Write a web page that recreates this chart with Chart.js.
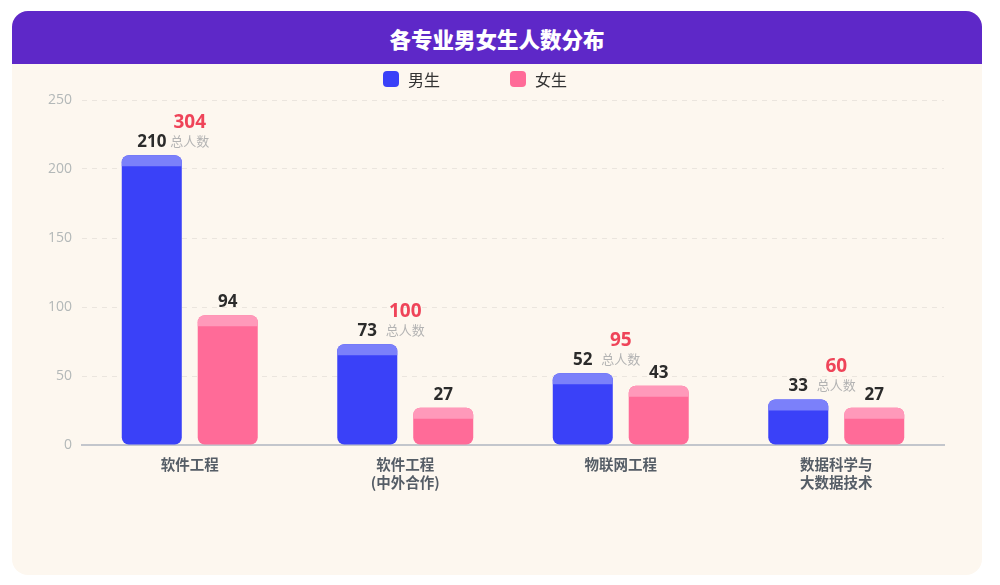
<!DOCTYPE html>
<html><head><meta charset="utf-8">
<script src="https://cdn.jsdelivr.net/npm/chart.js@4.4.1/dist/chart.umd.min.js"></script>
<style>
html,body{margin:0;padding:0;background:#fff;width:1000px;height:585px;overflow:hidden;font-family:"Noto Sans CJK SC","Noto Sans",sans-serif;}
#card{position:absolute;left:12px;top:11px;width:970px;height:564px;border-radius:16px;overflow:hidden;background:#fdf7ef;}
#head{position:absolute;left:0;top:0;width:970px;height:53px;background:#5e28c8;color:#fff;font-weight:900;font-size:21.5px;line-height:55px;text-align:center;}
#wrap{position:absolute;left:0;top:53px;width:970px;height:511px;}
#legend{position:absolute;top:59px;left:0;width:970px;height:20px;}
.li{position:absolute;top:0;display:flex;align-items:center;font-size:16px;color:#333;height:18px;}
.li i{display:inline-block;width:16px;height:16px;border-radius:4px;margin-right:9px;}
</style></head>
<body>
<div id="card">
  <div id="head">各专业男女生人数分布</div>
  <div id="wrap"><canvas id="c" width="970" height="511"></canvas></div>
  <div id="legend"></div>
</div>
<script>
const categories = [["软件工程"], ["软件工程", "(中外合作)"], ["物联网工程"], ["数据科学与", "大数据技术"]];
const seriesNames = ["男生", "女生"];
const maleValues = [210, 73, 52, 33];
const femaleValues = [94, 27, 43, 27];
const totalValues = [304, 100, 95, 60];
const yTicks = [0, 50, 100, 150, 200, 250];

const barColors = ["#3a41f8", "#ff6b98"];
const capColors = ["#7b80fa", "#ff99ba"];
const numFont = '"Open Sans", "Noto Sans CJK SC", sans-serif';

// HTML legend
const legendEl = document.getElementById('legend');
const legendLeft = [371, 498];
seriesNames.forEach((n, i) => {
  const d = document.createElement('div');
  d.className = 'li';
  d.style.left = legendLeft[i] + 'px';
  d.innerHTML = '<i style="background:' + barColors[i] + '"></i>' + n;
  legendEl.appendChild(d);
});

const capPlugin = {
  id: 'caps',
  afterDatasetsDraw(chart) {
    const ctx = chart.ctx;
    ctx.save();
    chart.data.datasets.forEach((ds, di) => {
      const meta = chart.getDatasetMeta(di);
      meta.data.forEach(el => {
        const w = el.width;
        ctx.fillStyle = capColors[di];
        ctx.beginPath();
        ctx.roundRect(el.x - w / 2, el.y, w, 11, [7, 7, 0, 0]);
        ctx.fill();
      });
    });
    ctx.restore();
  }
};

const labelPlugin = {
  id: 'labels',
  afterDatasetsDraw(chart) {
    const ctx = chart.ctx;
    const xs = chart.scales.x;
    ctx.save();
    ctx.textAlign = 'center';
    ctx.textBaseline = 'middle';
    const metas = chart.data.datasets.map((d, i) => chart.getDatasetMeta(i));
    metas.forEach(meta => {
      meta.data.forEach((el, i) => {
        ctx.font = 'bold 17px ' + numFont;
        ctx.fillStyle = '#2b2b2b';
        ctx.fillText(String(meta._dataset.data[i]), el.x, el.y - 13);
      });
    });
    totalValues.forEach((t, i) => {
      const top = Math.min(...metas.map(m => m.data[i].y));
      const cx = xs.getPixelForValue(i);
      ctx.font = 'bold 19px ' + numFont;
      ctx.fillStyle = '#ef4459';
      ctx.fillText(String(t), cx, top - 33);
      ctx.font = '13px "Noto Sans CJK SC", "Noto Sans", sans-serif';
      ctx.fillStyle = '#b3b3b3';
      ctx.fillText('总人数', cx, top - 14);
    });
    ctx.restore();
  }
};

new Chart(document.getElementById('c'), {
  type: 'bar',
  data: {
    labels: categories,
    datasets: [
      { label: seriesNames[0], data: maleValues, backgroundColor: barColors[0], borderRadius: 7, borderSkipped: false, barPercentage: 0.79, categoryPercentage: 0.705 },
      { label: seriesNames[1], data: femaleValues, backgroundColor: barColors[1], borderRadius: 7, borderSkipped: false, barPercentage: 0.79, categoryPercentage: 0.705 }
    ]
  },
  options: {
    responsive: false,
    animation: false,
    devicePixelRatio: 1,
    layout: { padding: { top: 36, right: 38, left: 0, bottom: 0 } },
    plugins: { legend: { display: false }, tooltip: { enabled: false }, title: { display: false } },
    scales: {
      x: {
        afterFit(s) { s.height = 130; },
        grid: { display: false, drawTicks: false },
        border: { display: true, color: '#c3c6cc', width: 2 },
        ticks: { color: '#555d66', font: { size: 14.5, weight: 'bold', family: '"Noto Sans CJK SC", "Noto Sans", sans-serif', lineHeight: 1.25 }, padding: 10 }
      },
      y: {
        min: 0, max: 250,
        afterFit(s) { s.width = 70; },
        afterBuildTicks(s) { s.ticks = yTicks.map(v => ({ value: v })); },
        grid: { color: 'rgba(0,0,0,0.07)', drawTicks: false },
        border: { display: false, dash: [5, 5] },
        ticks: { color: '#b3b8b8', font: { size: 14, family: '"Open Sans", "Noto Sans", sans-serif' }, padding: 10 }
      }
    }
  },
  plugins: [capPlugin, labelPlugin]
});
</script>
</body></html>
